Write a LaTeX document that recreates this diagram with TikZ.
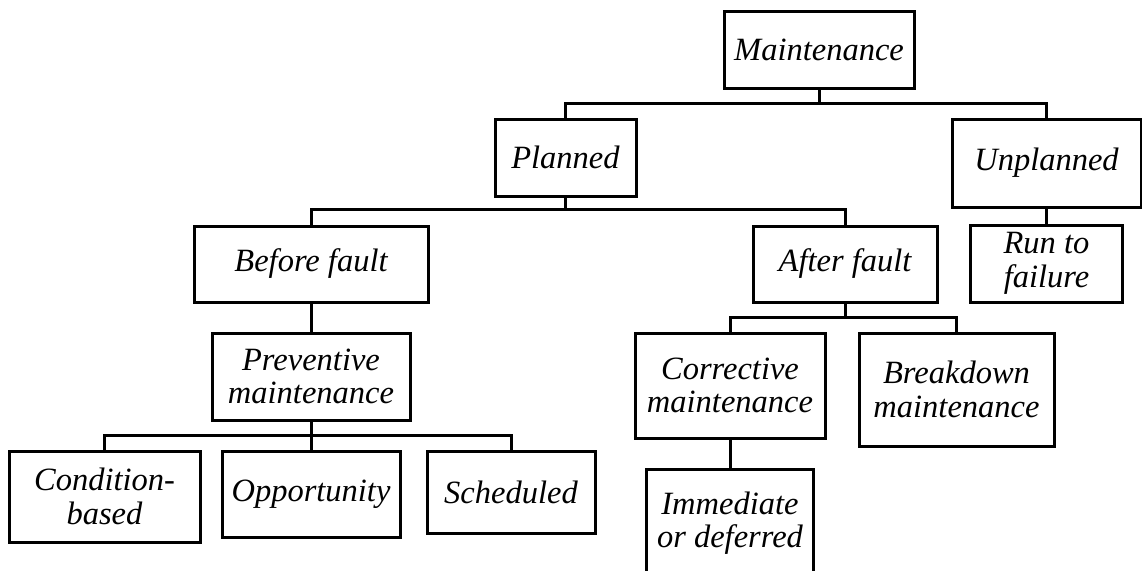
\documentclass[tikz,border=0pt]{standalone}
\usepackage{fontspec}
\setmainfont{Liberation Serif}
\begin{document}
\begin{tikzpicture}[x=1pt,y=-1pt,
  box/.style={draw, line width=3pt, line join=miter, align=center, inner sep=0pt,
    font=\fontsize{32.5}{33.5}\selectfont\itshape},
  conn/.style={draw, line width=3pt, line join=miter}]
\useasboundingbox (0,0) rectangle (1142,570);
% nodes
\node[box, minimum width=190pt, minimum height=77pt]  (m)  at (819,49.5)   {Maintenance};
\node[box, minimum width=141pt, minimum height=77pt]  (pl) at (565.5,157.5) {Planned};
\node[box, minimum width=189pt, minimum height=88pt]  (un) at (1046.5,163) {Unplanned};
\node[box, minimum width=234pt, minimum height=76pt]  (bf) at (311,264)    {Before fault};
\node[box, minimum width=184pt, minimum height=76pt]  (af) at (845,264)    {After fault};
\node[box, minimum width=152pt, minimum height=77pt]  (rf) at (1046.5,263.5) {Run to\\failure};
\node[box, minimum width=198pt, minimum height=87pt]  (pm) at (311,376.5)  {Preventive\\maintenance};
\node[box, minimum width=190pt, minimum height=105pt] (cm) at (730,385.5)  {Corrective\\maintenance};
\node[box, minimum width=195pt, minimum height=113pt] (bm) at (956.5,389.5) {Breakdown\\maintenance};
\node[box, minimum width=191pt, minimum height=91pt]  (cb) at (104.5,496.5) {Condition-\\based};
\node[box, minimum width=178pt, minimum height=86pt]  (op) at (311,494)    {Opportunity};
\node[box, minimum width=168pt, minimum height=82pt]  (sc) at (511,492)    {Scheduled};
\node[box, minimum width=167pt, minimum height=108pt] (im) at (730,523)    {Immediate\\or deferred};
% bus coordinates
\coordinate (b1) at (819,103);
\coordinate (b2) at (565.5,209);
\coordinate (b3) at (845,317);
\coordinate (b4) at (311,435);
% connectors
\draw[conn] (m.south) -- (b1);
\draw[conn] (pl.north) |- (b1) -| (un.north);
\draw[conn] (pl.south) -- (b2);
\draw[conn] (bf.north) |- (b2) -| (af.north);
\draw[conn] (un.south) -- (rf.north);
\draw[conn] (bf.south) -- (pm.north);
\draw[conn] (af.south) -- (b3);
\draw[conn] (cm.north) |- (b3) -| (bm.north);
\draw[conn] (cm.south) -- (im.north);
\draw[conn] (pm.south) -- (b4);
\draw[conn] (cb.north) |- (b4) -| (sc.north);
\draw[conn] (b4) -- (op.north);
\end{tikzpicture}
\end{document}
